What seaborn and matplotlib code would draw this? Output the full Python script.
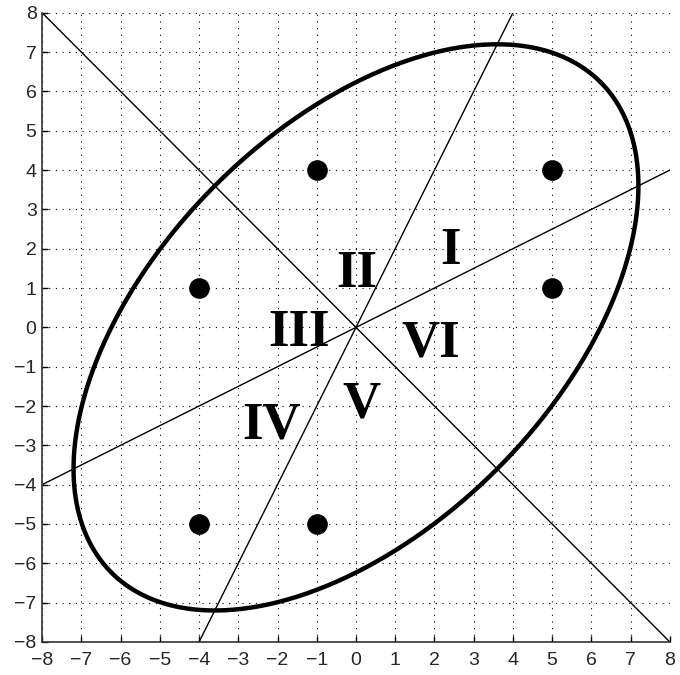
import numpy as np
import pandas as pd
import matplotlib
matplotlib.use("Agg")
import matplotlib.pyplot as plt
import seaborn as sns

# Class centres
pts_x = [-1, 5, -4, 5, -4, -1]
pts_y = [4, 4, 1, 1, -5, -5]

# Decision lines through the origin: y = slope * x
slopes = [-1.0, 0.5, 2.0]

# Ellipse  x^2 + y^2 - x*y = r2
ell_r2 = 38.88

# Region labels
region_names = ["I", "II", "III", "IV", "V", "VI"]
region_x = [2.4, 0.03, -1.45, -2.15, 0.15, 1.9]
region_y = [1.95, 1.35, -0.15, -2.5, -1.95, -0.4]

ticks = list(range(-8, 9))

sns.set_theme(style="white")
fig = plt.figure(figsize=(6.8, 6.75), dpi=100)
ax = fig.add_axes([0.062, 0.049, 0.923, 0.932])

# ellipse in rotated coordinates (axes along the diagonals)
t = np.linspace(0, 2 * np.pi, 721)
b = np.sqrt(2 * ell_r2 / 3.0)
a = np.sqrt(3.0) * b
u = a * np.cos(t)
v = b * np.sin(t)
ell = pd.DataFrame({"x": (u - v) / np.sqrt(2), "y": (u + v) / np.sqrt(2)})

for s in slopes:
    xs = np.array([-8.0, 8.0])
    df = pd.DataFrame({"x": xs, "y": s * xs})
    sns.lineplot(data=df, x="x", y="y", sort=False, estimator=None,
                 color="black", lw=1.0, ax=ax)

sns.lineplot(data=ell, x="x", y="y", sort=False, estimator=None,
             color="black", lw=3.2, ax=ax)

sns.scatterplot(x=pts_x, y=pts_y, color="black", s=190, edgecolor="black",
                zorder=5, ax=ax)

for name, x, y in zip(region_names, region_x, region_y):
    ax.text(x, y, name, ha="center", va="center", fontsize=38,
            family="Liberation Serif", weight="bold", color="black")

ax.set_xlim(-8, 8)
ax.set_ylim(-8, 8)
ax.set_xticks(ticks)
ax.set_yticks(ticks)
ax.set_xlabel("")
ax.set_ylabel("")
ax.grid(True, color="black", linestyle=(0, (1, 5)), lw=0.8)
ax.tick_params(axis="both", direction="in", length=4, width=1, color="black",
               labelsize=14, left=True, bottom=True)
ax.tick_params(axis="x", pad=7)
ax.tick_params(axis="y", pad=4)
for lab in ax.get_xticklabels() + ax.get_yticklabels():
    lab.set_family("Liberation Sans")
for side in ["top", "right"]:
    ax.spines[side].set_visible(False)
for side in ["left", "bottom"]:
    ax.spines[side].set_color("#333333")
    ax.spines[side].set_linewidth(1.2)

fig.savefig("out.png", dpi=100)
